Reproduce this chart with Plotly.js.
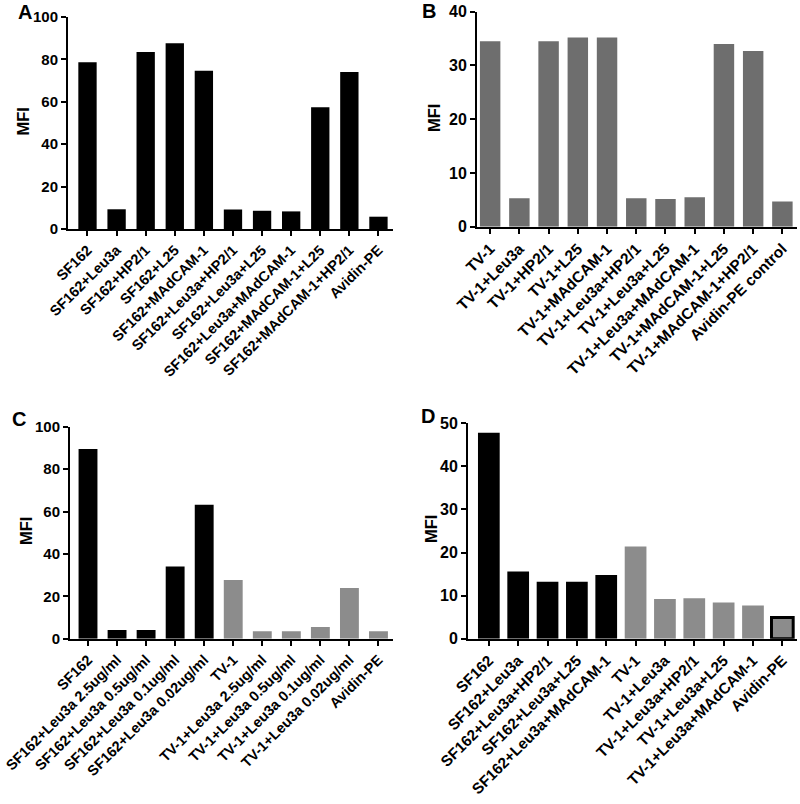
<!DOCTYPE html>
<html>
<head>
<meta charset="utf-8">
<script src="https://cdn.plot.ly/plotly-3.0.1.min.js"></script>
<style>html,body{margin:0;padding:0;background:#fff;}#chart{width:800px;height:804px;}</style>
</head>
<body>
<div id="chart"></div>
<script>
// ---- Data ----
const catsA = ["SF162","SF162+Leu3a","SF162+HP2/1","SF162+L25","SF162+MAdCAM-1","SF162+Leu3a+HP2/1","SF162+Leu3a+L25","SF162+Leu3a+MAdCAM-1","SF162+MAdCAM-1+L25","SF162+MAdCAM-1+HP2/1","Avidin-PE"];
const valsA = [78.6, 9.3, 83.5, 87.6, 74.7, 9.2, 8.6, 8.3, 57.4, 74.0, 5.8];

const catsB = ["TV-1","TV-1+Leu3a","TV-1+HP2/1","TV-1+L25","TV-1+MAdCAM-1","TV-1+Leu3a+HP2/1","TV-1+Leu3a+L25","TV-1+Leu3a+MAdCAM-1","TV-1+MAdCAM-1+L25","TV-1+MAdCAM-1+HP2/1","Avidin-PE control"];
const valsB = [34.5, 5.3, 34.5, 35.2, 35.2, 5.3, 5.15, 5.5, 34.0, 32.7, 4.7];

const catsC = ["SF162","SF162+Leu3a 2.5ug/ml","SF162+Leu3a 0.5ug/ml","SF162+Leu3a 0.1ug/ml","SF162+Leu3a 0.02ug/ml","TV-1","TV-1+Leu3a 2.5ug/ml","TV-1+Leu3a 0.5ug/ml","TV-1+Leu3a 0.1ug/ml","TV-1+Leu3a 0.02ug/ml","Avidin-PE"];
const valsC = [89.5, 4.1, 4.1, 34.0, 63.2, 27.7, 3.5, 3.5, 5.5, 23.9, 3.5];

const catsD = ["SF162","SF162+Leu3a","SF162+Leu3a+HP2/1","SF162+Leu3a+L25","SF162+Leu3a+MAdCAM-1","TV-1","TV-1+Leu3a","TV-1+Leu3a+HP2/1","TV-1+Leu3a+L25","TV-1+Leu3a+MAdCAM-1","Avidin-PE"];
const valsD = [47.8, 15.6, 13.2, 13.2, 14.8, 21.4, 9.2, 9.4, 8.4, 7.7, 4.9];

// ---- Styles ----
const FONT = "Arial, 'Liberation Sans', sans-serif";
const GRAY_B = "#6e6e6e";
const GRAY_CD = "#8c8c8c";
const isSF = c => c.indexOf("SF162") === 0;

const traces = [
  {type:"bar", x:catsA, y:valsA, xaxis:"x", yaxis:"y", width:0.63,
   marker:{color:"#000"}, hoverinfo:"x+y"},
  {type:"bar", x:catsB, y:valsB, xaxis:"x2", yaxis:"y2", width:0.70,
   marker:{color:GRAY_B}, hoverinfo:"x+y"},
  {type:"bar", x:catsC, y:valsC, xaxis:"x3", yaxis:"y3", width:0.65,
   marker:{color:catsC.map(c => isSF(c) ? "#000" : GRAY_CD)}, hoverinfo:"x+y"},
  {type:"bar", x:catsD, y:valsD, xaxis:"x4", yaxis:"y4", width:0.74,
   marker:{color:catsD.map(c => isSF(c) ? "#000" : GRAY_CD),
           line:{color:catsD.map(c => (c.indexOf("Avidin") === 0) ? "#000" : "rgba(0,0,0,0)"), width:3}},
   hoverinfo:"x+y"}
];

function xax(domain, range, fs){
  return {domain:domain, range:range, type:"category", showline:true, linecolor:"#000", linewidth:2,
    ticks:"outside", ticklen:5, tickwidth:2, tickcolor:"#000", tickangle:-45,
    showgrid:false, zeroline:false, automargin:false, fixedrange:true,
    tickfont:{family:FONT, size:fs, color:"#000", weight:"bold"}};
}
function yax(domain, range, dtick, anchor, fs){
  return {domain:domain, range:range, dtick:dtick, anchor:anchor, showline:true, linecolor:"#000", linewidth:2,
    ticks:"outside", ticklen:5, tickwidth:2, tickcolor:"#000",
    showgrid:false, zeroline:false, automargin:false, fixedrange:true,
    tickfont:{family:FONT, size:fs, color:"#000", weight:"bold"}};
}

const H = 804, W = 800;
const py = v => 1 - v / H;   // pixel-y to paper
const px = v => v / W;       // pixel-x to paper

function lbl(text, x, y, size, angle){
  return {text:text, x:px(x), y:py(y), xref:"paper", yref:"paper", showarrow:false,
    xanchor:"center", yanchor:"middle", textangle:angle || 0,
    font:{size:size, weight:"bold", family:FONT, color:"#000"}};
}

const layout = {
  width:W, height:H, margin:{l:0,r:0,t:0,b:0}, showlegend:false,
  paper_bgcolor:"#fff", plot_bgcolor:"#fff", bargap:0.3,
  font:{family:FONT, color:"#000"},
  xaxis:  Object.assign(xax([px(68),  px(393)], [-0.67, 10.5], 14.5), {anchor:"y"}),
  yaxis:  yax([py(229), py(17)],  [0,100], 20, "x", 15),
  xaxis2: Object.assign(xax([px(477), px(797)], [-0.45, 10.5], 15.5), {anchor:"y2"}),
  yaxis2: yax([py(226.7), py(11.7)], [0,40], 10, "x2", 16),
  xaxis3: Object.assign(xax([px(70),  px(393)], [-0.62, 10.5], 14.5), {anchor:"y3"}),
  yaxis3: yax([py(638.7), py(426.7)], [0,100], 20, "x3", 15),
  xaxis4: Object.assign(xax([px(468), px(797)], [-0.71, 10.5], 15.3), {anchor:"y4"}),
  yaxis4: yax([py(638.7), py(423.3)], [0,50], 10, "x4", 16),
  annotations: [
    lbl("A", 25, 12, 20),
    lbl("B", 429, 11, 20),
    lbl("C", 19, 419, 20),
    lbl("D", 428, 416, 20),
    lbl("MFI", 22.5, 122, 16.5, -90),
    lbl("MFI", 434, 118, 16.5, -90),
    lbl("MFI", 26, 531, 16.5, -90),
    lbl("MFI", 431, 529, 16.5, -90)
  ]
};

Plotly.newPlot("chart", traces, layout, {displayModeBar:false, staticPlot:true});
</script>
</body>
</html>
